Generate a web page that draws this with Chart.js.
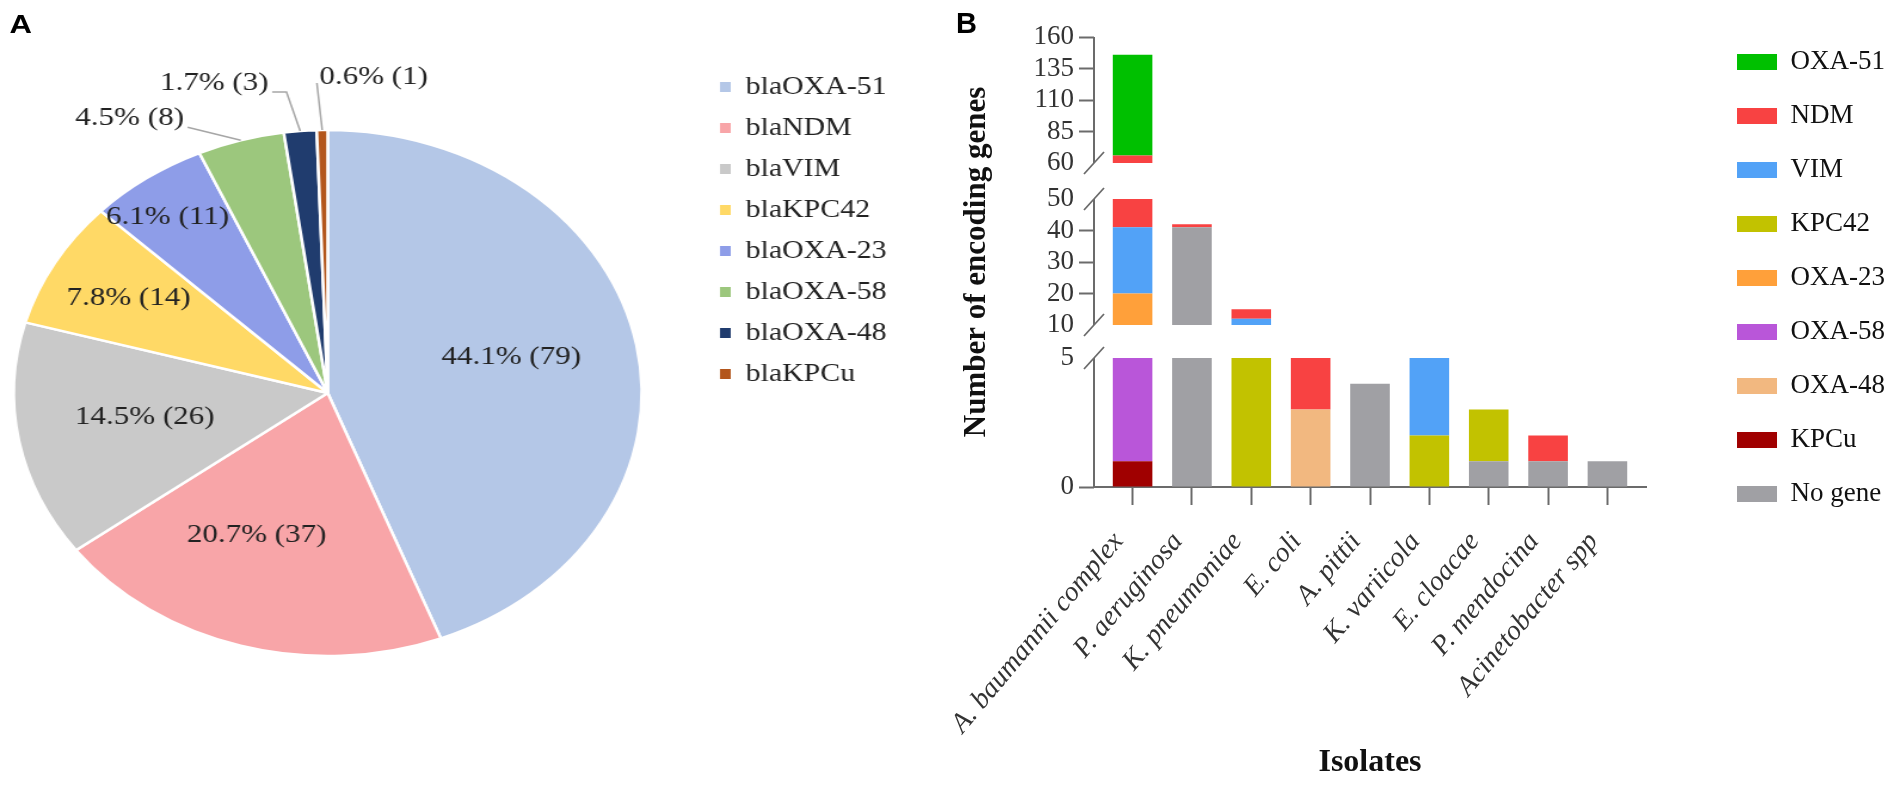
<!DOCTYPE html>
<html>
<head>
<meta charset="utf-8">
<script src="https://cdn.jsdelivr.net/npm/chart.js@4.4.1/dist/chart.umd.min.js"></script>
<style>
  html, body { margin: 0; padding: 0; background: #fff; overflow: hidden; }
  body { width: 1901px; height: 786px; position: relative; }
  /* panel A of the source figure is stretched sideways */
  #panelA { position: absolute; left: 0; top: 0; width: 800px; height: 786px; transform: scaleX(1.194); transform-origin: 0 0; }
  #pieChart { position: absolute; left: -38px; top: 0; }
  #barChart { position: absolute; left: 930px; top: 0; }
  .tag { position: absolute; font-family: "Liberation Sans", Arial, sans-serif; font-weight: bold; color: #000; }
</style>
</head>
<body>
<div id="panelA">
  <canvas id="pieChart" width="800" height="786"></canvas>
  <div class="tag" style="left:8px;top:11px;font-size:26px;line-height:26px">A</div>
</div>
<canvas id="barChart" width="971" height="786"></canvas>
<div class="tag" style="left:956px;top:9px;font-size:29px;line-height:29px">B</div>

<script>
const SERIF = '"Liberation Serif", "Times New Roman", serif';
const AXIS = "#6b6b6b";

// ---- panel A data
const pieLabels = ["blaOXA-51", "blaNDM", "blaVIM", "blaKPC42", "blaOXA-23", "blaOXA-58", "blaOXA-48", "blaKPCu"];
const pieCounts = [79, 37, 26, 14, 11, 8, 3, 1];
const pieColors = ["#b4c7e7", "#f8a5a8", "#c9c9c9", "#ffd966", "#8e9de8", "#9cc77d", "#203c6e", "#b3561c"];

// ---- panel B data
const isolates = [
  "A. baumannii complex", "P. aeruginosa", "K. pneumoniae", "E. coli", "A. pittii",
  "K. variicola", "E. cloacae", "P. mendocina", "Acinetobacter spp"
];
const noGene = [0, 41, 0, 0, 4, 0, 1, 1, 1];
const kpcu   = [1, 0, 0, 0, 0, 0, 0, 0, 0];
const oxa48  = [0, 0, 0, 3, 0, 0, 0, 0, 0];
const oxa58  = [8, 0, 0, 0, 0, 0, 0, 0, 0];
const oxa23  = [11, 0, 0, 0, 0, 0, 0, 0, 0];
const kpc42  = [0, 0, 10, 0, 0, 2, 2, 0, 0];
const vim    = [21, 0, 2, 0, 0, 3, 0, 0, 0];
const ndm    = [25, 1, 3, 2, 0, 0, 0, 1, 0];
const oxa51  = [80, 0, 0, 0, 0, 0, 0, 0, 0];
const geneNames = ["No gene", "KPCu", "OXA-48", "OXA-58", "OXA-23", "KPC42", "VIM", "NDM", "OXA-51"];
const geneValues = [noGene, kpcu, oxa48, oxa58, oxa23, kpc42, vim, ndm, oxa51];
const geneColors = ["#a0a0a4", "#a00000", "#f2b880", "#b956d9", "#ffa03a", "#c2c200", "#52a2f7", "#f84242", "#00c000"];

// y axis with two breaks
const yTicks = [0, 5, 10, 20, 30, 40, 50, 60, 85, 110, 135, 160];
const yBreaks = [[5, 10], [50, 60]];
// value -> share of axis height
const yAxisLayout = [[0, 0], [5, 129 / 450], [10, 162 / 450], [50, 288 / 450], [60, 324 / 450], [160, 1]];

function toFraction(v) {
  for (let k = 1; k < yAxisLayout.length; k++) {
    const [v0, f0] = yAxisLayout[k - 1], [v1, f1] = yAxisLayout[k];
    if (v <= v1 || k === yAxisLayout.length - 1) return f0 + (v - v0) / (v1 - v0) * (f1 - f0);
  }
}
function fromFraction(f) {
  for (let k = 1; k < yAxisLayout.length; k++) {
    const [v0, f0] = yAxisLayout[k - 1], [v1, f1] = yAxisLayout[k];
    if (f <= f1 || k === yAxisLayout.length - 1) return v0 + (f - f0) / (f1 - f0) * (v1 - v0);
  }
}

class BrokenScale extends Chart.LinearScale {
  getPixelForValue(value) {
    return this.getPixelForDecimal(toFraction(value));
  }
  getValueForPixel(pixel) {
    return fromFraction(this.getDecimalForPixel(pixel));
  }
}
BrokenScale.id = "broken";
BrokenScale.defaults = {};
Chart.register(BrokenScale);

// ---- pie labels
const labelPlace = [
  { r: 0.60, turn: -2.6 },
  { r: 0.585, turn: 6.7 },
  { r: 0.59, turn: 1.6 },
  { r: 0.73, turn: 0 },
  { r: 0.84, turn: -2.2 },
  { dx: -93, dy: -22, side: "right", elbow: 0 },
  { dx: -72, dy: -48, side: "right", elbow: 12 },
  { dx: 43, dy: -53, side: "left", elbow: 0 }
];

const pieLabelPlugin = {
  id: "pieLabels",
  afterDatasetsDraw(chart) {
    const ctx = chart.ctx;
    const arcs = chart.getDatasetMeta(0).data;
    const total = pieCounts.reduce((a, b) => a + b, 0);
    ctx.save();
    ctx.font = "26px " + SERIF;
    ctx.fillStyle = "#222";
    ctx.textAlign = "center";
    ctx.textBaseline = "middle";
    ctx.strokeStyle = "#a6a6a6";
    ctx.lineWidth = 1.5;
    arcs.forEach((arc, i) => {
      const text = (pieCounts[i] / total * 100).toFixed(1) + "% (" + pieCounts[i] + ")";
      const mid = (arc.startAngle + arc.endAngle) / 2;
      const p = labelPlace[i];
      if (p.dx === undefined) {
        const a = mid + p.turn * Math.PI / 180;
        const r = arc.outerRadius * p.r;
        ctx.fillText(text, arc.x + r * Math.cos(a), arc.y + r * Math.sin(a));
        return;
      }
      const ex = arc.x + arc.outerRadius * Math.cos(mid);
      const ey = arc.y + arc.outerRadius * Math.sin(mid);
      const tx = ex + p.dx, ty = ey + p.dy;
      ctx.fillText(text, tx, ty);
      const w = ctx.measureText(text).width;
      const sx = p.side === "right" ? tx + w / 2 + 3 : tx - w / 2 - 2;
      const sy = ty + (p.side === "right" ? 9 : 6);
      ctx.beginPath();
      ctx.moveTo(sx, sy);
      if (p.elbow) ctx.lineTo(sx + p.elbow, sy);
      ctx.lineTo(ex, ey);
      ctx.stroke();
    });
    ctx.restore();
  }
};

new Chart(document.getElementById("pieChart"), {
  type: "pie",
  data: {
    labels: pieLabels,
    datasets: [{
      data: pieCounts,
      backgroundColor: pieColors,
      borderColor: "#fff",
      borderWidth: 2.5,
      radius: 263
    }]
  },
  options: {
    responsive: false,
    animation: false,
    layout: { padding: { top: 58.5, bottom: 58.5, left: 0, right: 9.5 } },
    plugins: {
      tooltip: { enabled: false },
      legend: {
        position: "right",
        align: "start",
        labels: {
          boxWidth: 9,
          boxHeight: 10,
          padding: 16,
          font: { family: SERIF, size: 25 },
          generateLabels: () => pieLabels.map((t, i) => ({
            text: t, fillStyle: pieColors[i], strokeStyle: pieColors[i],
            lineWidth: 0, fontColor: "#222", hidden: false, index: i
          }))
        }
      }
    }
  },
  plugins: [pieLabelPlugin]
});

// ---- broken axis drawing
const breakValues = yBreaks.flat();
const brokenAxisPlugin = {
  id: "brokenAxis",
  afterDatasetsDraw(chart) {
    const { ctx, chartArea, scales: { y } } = chart;
    ctx.save();
    ctx.fillStyle = "#fff";
    yBreaks.forEach(([lo, hi]) => {
      const top = y.getPixelForValue(hi), bottom = y.getPixelForValue(lo);
      ctx.fillRect(chartArea.left - 1, top, chartArea.width + 2, bottom - top);
    });
    ctx.restore();
  },
  afterDraw(chart) {
    const { ctx, chartArea, scales: { y } } = chart;
    const x = chartArea.left;
    const edges = [yTicks[0], ...breakValues, yTicks[yTicks.length - 1]];
    ctx.save();
    ctx.strokeStyle = AXIS;
    ctx.lineWidth = 2;
    for (let k = 0; k < edges.length; k += 2) {
      ctx.beginPath();
      ctx.moveTo(x, y.getPixelForValue(edges[k]));
      ctx.lineTo(x, y.getPixelForValue(edges[k + 1]));
      ctx.stroke();
    }
    ctx.lineWidth = 1.8;
    breakValues.forEach(v => {
      const py = y.getPixelForValue(v);
      ctx.beginPath();
      ctx.moveTo(x - 10, py + 11);
      ctx.lineTo(x + 10, py - 11);
      ctx.stroke();
    });
    ctx.restore();
  }
};

// empty boxes that only hold space in the layout
const spacer = (position, size) => ({
  type: "linear",
  position: position,
  display: false,
  afterFit: s => { if (s.isHorizontal()) s.height = size; else s.width = size; }
});

new Chart(document.getElementById("barChart"), {
  type: "bar",
  data: {
    datasets: geneNames.map((name, k) => ({
      label: name,
      data: geneValues[k].map((v, i) => ({ x: i, y: v })),
      backgroundColor: geneColors[k],
      xAxisID: "x",
      yAxisID: "y",
      barPercentage: 0.667,
      categoryPercentage: 1
    }))
  },
  options: {
    responsive: false,
    animation: false,
    layout: { padding: { top: 21.5, right: 6, left: 0, bottom: 0 } },
    scales: {
      x: {
        type: "linear",
        position: "bottom",
        offset: false,
        min: -0.65,
        max: 8.65,
        stacked: true,
        afterBuildTicks: s => { s.ticks = isolates.map((_, i) => ({ value: i })); },
        afterFit: s => { s.height = 299; },
        border: { display: true, color: AXIS, width: 2 },
        grid: { offset: false, drawOnChartArea: false, tickLength: 18, tickWidth: 2, color: AXIS },
        ticks: {
          autoSkip: false,
          minRotation: 50,
          maxRotation: 50,
          padding: 21,
          labelOffset: -14,
          color: "#333",
          font: { family: SERIF, size: 28, style: "italic" },
          callback: v => isolates[v]
        },
        title: {
          display: true,
          text: "Isolates",
          color: "#111",
          font: { family: SERIF, size: 32, weight: "bold" },
          padding: { top: 0, bottom: 4 }
        }
      },
      y: {
        type: "broken",
        position: "left",
        stacked: true,
        min: 0,
        max: 160,
        afterBuildTicks: s => { s.ticks = yTicks.map(v => ({ value: v })); },
        afterFit: s => { s.width = 164; },
        border: { display: false },
        grid: {
          drawOnChartArea: false,
          tickLength: 15,
          tickWidth: 2,
          color: c => (c.tick && breakValues.includes(c.tick.value)) ? "rgba(0,0,0,0)" : AXIS
        },
        ticks: { autoSkip: false, padding: 5, color: "#333", font: { family: SERIF, size: 27 } },
        title: {
          display: true,
          text: "Number of encoding genes",
          color: "#111",
          font: { family: SERIF, size: 31, weight: "bold" },
          padding: { top: 28, bottom: 0 }
        }
      },
      gapTop: spacer("top", 15.5),
      gapRight: spacer("right", 64)
    },
    plugins: {
      tooltip: { enabled: false },
      legend: {
        position: "right",
        align: "start",
        reverse: true,
        labels: {
          boxWidth: 40,
          boxHeight: 16,
          padding: 27,
          color: "#111",
          font: { family: SERIF, size: 27 }
        }
      }
    }
  },
  plugins: [brokenAxisPlugin]
});
</script>
</body>
</html>
